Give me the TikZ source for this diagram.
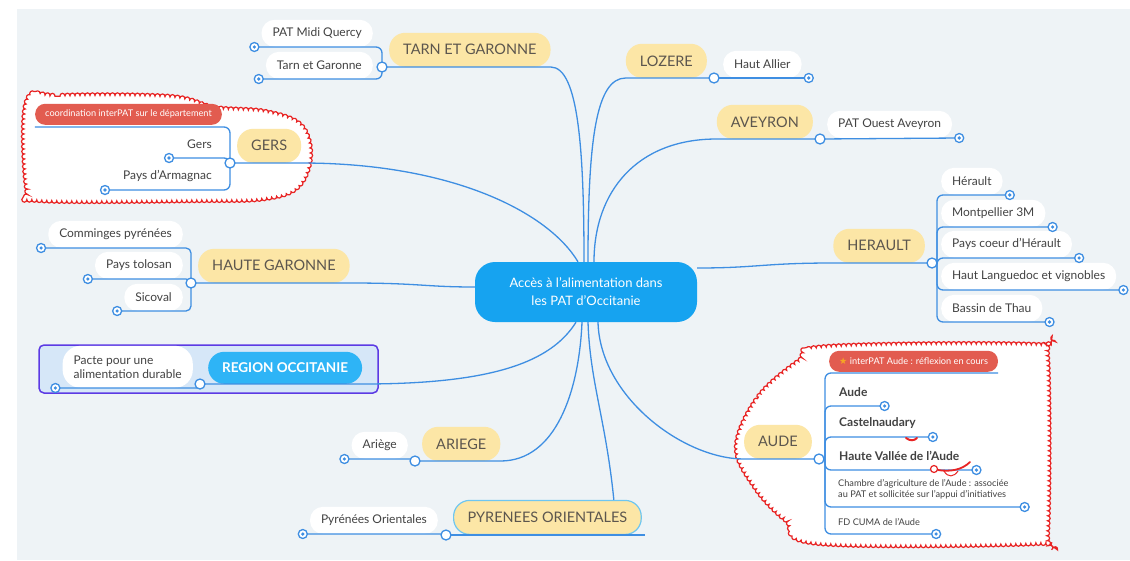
\documentclass[tikz,border=0pt]{standalone}
\usepackage{fontspec}
\setmainfont{Lato}
\newfontfamily\symfont{DejaVu Sans}
\usetikzlibrary{positioning,decorations.pathmorphing}

\definecolor{bgc}{RGB}{238,243,246}
\definecolor{linkc}{RGB}{62,142,226}
\definecolor{yel}{RGB}{252,230,166}
\definecolor{yeltxt}{RGB}{92,86,78}
\definecolor{leaftxt}{RGB}{66,66,66}
\definecolor{ctr}{RGB}{22,163,240}
\definecolor{regc}{RGB}{46,180,246}
\definecolor{tagc}{RGB}{226,92,80}
\definecolor{cloudc}{RGB}{232,36,36}
\definecolor{grpc}{RGB}{92,58,228}
\definecolor{grpfill}{RGB}{214,231,248}
\definecolor{selc}{RGB}{110,198,240}
\definecolor{starc}{RGB}{246,166,35}

\tikzset{
  link/.style={draw=linkc, line width=1.3pt},
  topic/.style={fill=yel, text=yeltxt, rounded corners=16pt, minimum height=34pt, inner xsep=14pt, font=\fontsize{14.5}{16}\selectfont},
  leaf/.style={fill=white, text=leaftxt, rounded corners=13pt, minimum height=27pt, inner xsep=11pt, font=\fontsize{12}{14}\selectfont},
  subleaf/.style={leaf, inner xsep=10pt, font=\fontsize{12}{14}\selectfont\bfseries},
  smallleaf/.style={leaf, inner xsep=9pt, minimum height=24pt, align=left, font=\fontsize{9.2}{11.5}\selectfont},
  tag/.style={fill=tagc, text=white, rounded corners=10pt, minimum height=21pt, inner xsep=10pt, font=\fontsize{9.2}{10}\selectfont},
  junction/.style={circle, draw=linkc, fill=white, line width=1.3pt, minimum size=10pt, inner sep=0pt},
  knob/.style={circle, draw=linkc, fill=white, line width=1.3pt, minimum size=9pt, inner sep=0pt,
    path picture={\fill[linkc] (path picture bounding box.center) circle (1.8pt);}},
  cloudzone/.style={draw=cloudc, fill=white, line width=1.2pt, decorate, decoration={bumps, segment length=10pt, amplitude=2.6pt}},
}

\begin{document}
\begin{tikzpicture}[x=1pt,y=-1pt]
\useasboundingbox (0,0) rectangle (1130,560);
\fill[white] (0,0) rectangle (1130,560);
\fill[bgc] (17,9) rectangle (1130,560);

\path[cloudzone] plot[smooth cycle, tension=0.6] coordinates {(27,102) (60,96) (170,97) (215,108) (265,112) (300,125) (310,155) (298,186) (265,198) (200,200) (40,200) (27,188)};
\path[cloudzone] plot[smooth cycle, tension=0.6] coordinates {(737,447) (758,398) (798,362) (828,347) (1035,345) (1047,357) (1047,532) (1036,543) (820,543) (786,520) (756,488)};
\draw[grpc, fill=grpfill, line width=1.5pt, rounded corners=5pt] (39,345) rectangle (378,393);

\node[fill=ctr, text=white, rounded corners=20pt, minimum width=222pt, minimum height=60pt, align=center, font=\fontsize{13}{18}\selectfont] (centre) at (586,292) {Accès à l'alimentation dans\\les PAT d'Occitanie};

\node[topic, anchor=south west] (tarn) at (389,67) {TARN ET GARONNE};
\node[topic, anchor=south west] (gers) at (237,163) {GERS};
\node[topic, anchor=south west] (hgar) at (198,283) {HAUTE GARONNE};
\node[topic, anchor=south west, fill=regc, text=white, minimum height=32pt, font=\fontsize{13.5}{16}\selectfont\bfseries] (region) at (208,384) {REGION OCCITANIE};
\node[topic, anchor=south west] (ariege) at (422,461) {ARIEGE};
\node[topic, anchor=south west, draw=selc, line width=1.2pt] (pyr) at (453,535) {PYRENEES ORIENTALES};
\node[topic, anchor=south east] (lozere) at (707,78) {LOZERE};
\node[topic, anchor=south east] (aveyron) at (813,139) {AVEYRON};
\node[topic, anchor=south east] (herault) at (925,263) {HERAULT};
\node[topic, anchor=south east] (aude) at (812,459) {AUDE};

\node[leaf, anchor=south east] (midi) at (373,47) {PAT Midi Quercy};
\node[leaf, anchor=south east] (tgar) at (373,79) {Tarn et Garonne};
\node[tag, anchor=south east] (gerstag) at (222,125) {coordination interPAT sur le département};
\node[leaf, anchor=south east] (gersl) at (223,158) {Gers};
\node[leaf, anchor=south east] (armagnac) at (223,190) {Pays d'Armagnac};
\node[leaf, anchor=south east] (comminges) at (183,248) {Comminges pyrénées};
\node[leaf, anchor=south east] (tolosan) at (183,279) {Pays tolosan};
\node[leaf, anchor=south east] (sicoval) at (183,311) {Sicoval};
\node[leaf, anchor=south east, align=left, minimum height=42pt, rounded corners=18pt] (pacte) at (193,388) {Pacte pour une\\alimentation durable};
\node[leaf, anchor=south east] (ariegel) at (408,459) {Ariège};
\node[leaf, anchor=south east] (pyrl) at (438,534) {Pyrénées Orientales};
\node[leaf, anchor=south west] (allier) at (723,78) {Haut Allier};
\node[leaf, anchor=south west] (ouest) at (827,138) {PAT Ouest Aveyron};
\node[leaf, anchor=south west] (h1) at (941,195) {Hérault};
\node[leaf, anchor=south west] (h2) at (941,227) {Montpellier 3M};
\node[leaf, anchor=south west] (h3) at (941,258) {Pays coeur d'Hérault};
\node[leaf, anchor=south west] (h4) at (941,290) {Haut Languedoc et vignobles};
\node[leaf, anchor=south west] (h5) at (941,322) {Bassin de Thau};
\node[tag, anchor=south west] (audetag) at (829,372) {{\symfont\color{starc}★}\ interPAT Aude : réflexion en cours};
\node[subleaf, anchor=south west] (a1) at (829,406) {Aude};
\node[subleaf, anchor=south west] (a2) at (829,437) {Castelnaudary};
\node[subleaf, anchor=south west] (a3) at (829,470) {Haute Vallée de l'Aude};
\node[smallleaf, minimum height=35pt, anchor=south west] (a4) at (829,507) {Chambre d'agriculture de l'Aude : associée\\au PAT et sollicitée sur l'appui d'initiatives};
\node[smallleaf, anchor=south west] (a5) at (829,534) {FD CUMA de l'Aude};

\coordinate (jtarn) at ([xshift=-7pt]tarn.south west);
\coordinate (jgers) at ([xshift=-7pt]gers.south west);
\coordinate (jhgar) at ([xshift=-7pt]hgar.south west);
\coordinate (jregion) at ([xshift=-8pt]region.south west);
\coordinate (jariege) at ([xshift=-7pt]ariege.south west);
\coordinate (jpyr) at ([xshift=-7pt]pyr.south west);
\coordinate (jlozere) at ([xshift=7pt]lozere.south east);
\coordinate (javeyron) at ([xshift=7pt]aveyron.south east);
\coordinate (jherault) at ([xshift=7pt]herault.south east);
\coordinate (jaude) at ([xshift=7pt]aude.south east);
\foreach \n in {midi,tgar,gersl,armagnac,comminges,tolosan,sicoval,pacte,ariegel,pyrl}
  \coordinate (d\n) at ([xshift=-7pt]\n.south west);
\foreach \n in {allier,ouest,h1,h2,h3,h4,h5,a1,a2,a3,a4,a5}
  \coordinate (d\n) at ([xshift=7pt]\n.south east);

\draw[link] (jtarn) -- (tarn.south east) .. controls +(28,0) and +(0,-110) .. ([xshift=-2pt]centre.north);
\draw[link] (jgers) -- (gers.south east) .. controls +(150,0) and +(-30,-50) .. ([xshift=-8pt]centre.north);
\draw[link] (jhgar) -- (hgar.south east) .. controls +(70,0) and +(-50,0) .. ([yshift=5pt]centre.west);
\draw[link] (jregion) -- (region.south east) .. controls +(130,0) and +(-25,40) .. ([xshift=-10pt]centre.south);
\draw[link] (jariege) -- (ariege.south east) .. controls +(55,0) and +(-3,70) .. ([xshift=-4pt]centre.south);
\draw[link] (jpyr) -- ([xshift=3pt]pyr.south east);
\draw[link] ([xshift=-28pt]pyr.north east) .. controls +(-8,-80) and +(2,60) .. ([xshift=2pt]centre.south);
\draw[link] (jlozere) -- (lozere.south west) .. controls +(-30,0) and +(0,-120) .. ([xshift=2pt]centre.north);
\draw[link] (javeyron) -- (aveyron.south west) .. controls +(-80,0) and +(0,-70) .. ([xshift=8pt]centre.north);
\draw[link] (jherault) -- (herault.south west) .. controls +(-70,0) and +(60,0) .. ([yshift=24pt]centre.east);
\draw[link] (jaude) -- (aude.south west) .. controls +(-60,0) and +(2,75) .. ([xshift=12pt]centre.south);

\foreach \n in {midi,tgar} \draw[link, rounded corners=6pt] (jtarn) |- (d\n);
\draw[link, rounded corners=6pt] (jgers) |- ([yshift=-2pt]gerstag.south west);
\foreach \n in {gersl,armagnac} \draw[link, rounded corners=6pt] (jgers) |- (d\n);
\foreach \n in {comminges,tolosan,sicoval} \draw[link, rounded corners=5pt] (jhgar) |- (d\n);
\draw[link, rounded corners=2pt] (jregion) |- (dpacte);
\draw[link, rounded corners=1pt] (jariege) |- (dariegel);
\draw[link, rounded corners=1pt] (jpyr) |- (dpyrl);
\draw[link] (jlozere) -- (dallier);
\draw[link] (javeyron) -- (douest);
\foreach \n in {h1,h2,h3,h4,h5} \draw[link, rounded corners=6pt] ([xshift=5pt]jherault) |- (d\n);
\draw[link, rounded corners=6pt] ([xshift=6pt]jaude) |- ([yshift=-1pt]audetag.south east);
\foreach \n in {a1,a2,a3,a4,a5} \draw[link, rounded corners=6pt] ([xshift=6pt]jaude) |- (d\n);

\foreach \n in {midi,tgar,gersl,armagnac,comminges,tolosan,sicoval,pacte,ariegel,pyrl,allier,ouest,h1,h2,h3,h4,h5,a1,a2,a3,a4,a5}
  \node[knob] at (d\n) {};
\foreach \n in {jtarn,jgers,jhgar,jregion,jariege,jpyr,jlozere,javeyron,jherault,jaude}
  \node[junction] at (\n) {};

\draw[cloudc, line width=2pt, line cap=round] (906,438) .. controls (910,441) and (914,441) .. (917,438);
\draw[cloudc, line width=1.8pt, line cap=round] (938,470) .. controls (950,472) and (962,470) .. (970,462);
\draw[cloudc, line width=1pt] (944,471) .. controls (948,478) and (954,477) .. (958,471);
\draw[cloudc, line width=1.2pt, fill=white] (934,469) circle (3.5pt);
\end{tikzpicture}
\end{document}
